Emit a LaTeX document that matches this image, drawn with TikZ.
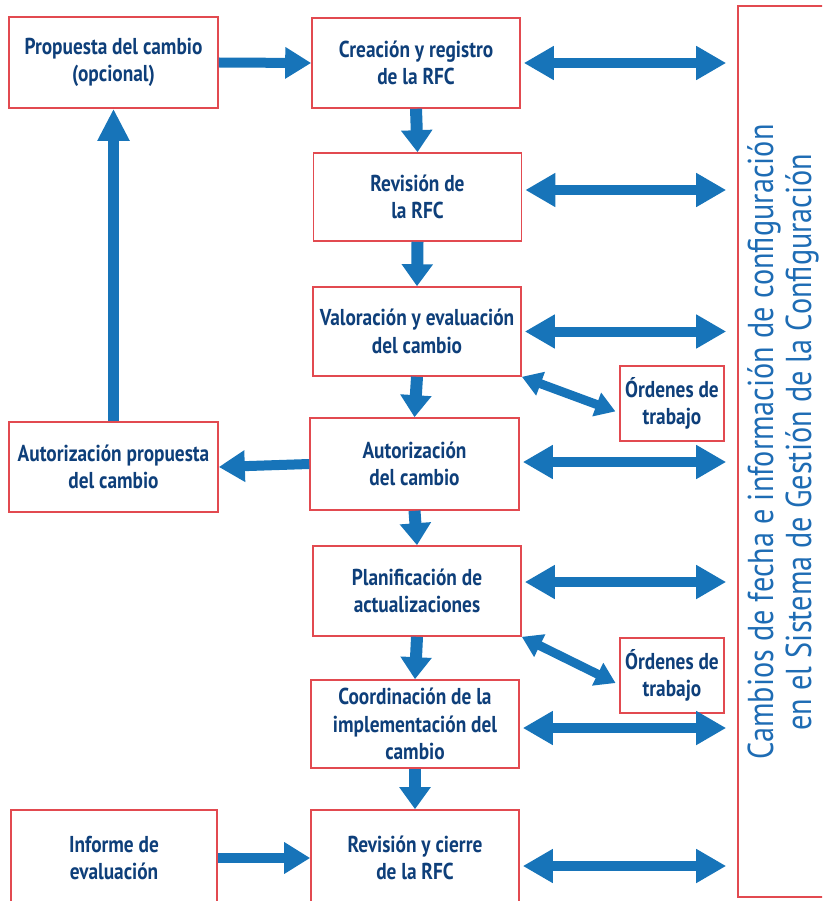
\documentclass[tikz,border=0pt]{standalone}
\usepackage{fontspec}
\setmainfont{PT Sans}
\newfontfamily\narrowsans{PT Sans}[FakeStretch=0.84]
\usetikzlibrary{arrows.meta}
\definecolor{boxred}{HTML}{E24A50}
\definecolor{navy}{HTML}{0E3F7A}
\definecolor{flow}{HTML}{1774B9}
\definecolor{sidetext}{HTML}{1E6CB4}

\begin{document}
\begin{tikzpicture}[x=1pt,y=-1pt,
  stepbox/.style={draw=boxred, line width=1.6pt, fill=white, align=center,
    font=\narrowsans\bfseries\fontsize{23}{27.5}\selectfont, text=navy, inner sep=0pt},
  smallbox/.style={stepbox, minimum width=104pt, minimum height=75pt},
  widebox/.style={stepbox, minimum width=208pt, minimum height=90pt},
  flowarrow/.style={draw=flow, line width=10pt, -{Triangle[width=30pt,length=26pt]}},
  downarrow/.style={draw=flow, line width=12pt, -{Triangle[width=30pt,length=22pt]}},
  twoway/.style={draw=flow, line width=10pt,
    {Triangle[width=32pt,length=30pt]}-{Triangle[width=32pt,length=30pt]},
    shorten <=3pt, shorten >=11pt},
  diagway/.style={draw=flow, line width=9pt,
    {Triangle[width=24pt,length=20pt]}-{Triangle[width=24pt,length=20pt]},
    shorten >=4pt}
]
\useasboundingbox (0,0) rectangle (822,901);
\clip (0,0) rectangle (822,901);

% side panel with the configuration system
\node[draw=boxred, line width=1.6pt, minimum width=100pt, minimum height=891pt, inner sep=0pt] (big) at (788,451.5) {};
\node[rotate=90, text=sidetext, font=\narrowsans\fontsize{36}{38}\selectfont, align=center] (bigtext) at (783,442)
  {Cambios de fecha e información de configuración\\en el Sistema de Gestión de la Configuración};

% process steps
\node[widebox, minimum width=209pt, minimum height=91pt] (prop) at (113.5,62.5) {Propuesta del cambio\\(opcional)};
\node[widebox] (crea) at (416,63) {Creación y registro\\de la RFC};
\node[widebox, minimum height=88pt] (rev) at (417.5,197) {Revisión de\\la RFC};
\node[widebox, minimum height=89pt] (val) at (417,331.5) {Valoración y evaluación\\del cambio};
\node[smallbox] (ord1) at (672,403.5) {Órdenes de\\trabajo};
\node[widebox, minimum width=209pt, minimum height=92pt] (aut) at (414.5,464) {Autorización\\del cambio};
\node[widebox, minimum width=209pt] (autp) at (113.5,467) {Autorización propuesta\\del cambio};
\node[widebox] (plan) at (417,591) {Planificación de\\actualizaciones};
\node[smallbox] (ord2) at (672,675.5) {Órdenes de\\trabajo};
\node[widebox, minimum height=88pt] (coord) at (415,724) {Coordinación de la\\implementación del\\cambio};
\node[widebox, minimum width=206pt, minimum height=96pt] (inf) at (114,858) {Informe de\\evaluación};
\node[widebox, minimum height=96pt] (rc) at (415,858) {Revisión y cierre\\de la RFC};

% main flow
\draw[flowarrow] (prop.east) -- (crea.west);
\draw[downarrow] (crea.south) -- (rev.north);
\draw[downarrow] (rev.south) -- (val.north);
\draw[downarrow] (val.south) -- (aut.north);
\draw[downarrow] (aut.south) -- (plan.north);
\draw[downarrow] (plan.south) -- (coord.north);
\draw[downarrow] (coord.south) -- (rc.north);
\draw[flowarrow] (aut.west) -- (autp.east);
\draw[downarrow, line width=11pt, -{Triangle[width=30pt,length=32pt]}] (autp.north) -- (prop.south);
\draw[flowarrow] (inf.east) -- (rc.west);

% exchanges with the configuration system
\draw[twoway] (crea.east) -- (crea.east -| big.west);
\draw[twoway] ([yshift=7pt]rev.east) -- ([yshift=7pt]rev.east -| big.west);
\draw[twoway] (val.east) -- (val.east -| big.west);
\draw[twoway] ([yshift=2pt]aut.east) -- ([yshift=2pt]aut.east -| big.west);
\draw[twoway] ([yshift=9pt]plan.east) -- ([yshift=9pt]plan.east -| big.west);
\draw[twoway] ([yshift=-4pt]coord.east) -- ([yshift=-4pt]coord.east -| big.west);
\draw[twoway] ([yshift=-8pt]rc.east) -- ([yshift=-8pt]rc.east -| big.west);

% work orders
\draw[diagway] (val.south east) -- (ord1.190);
\draw[diagway] (plan.south east) -- (ord2.190);
\end{tikzpicture}
\end{document}
